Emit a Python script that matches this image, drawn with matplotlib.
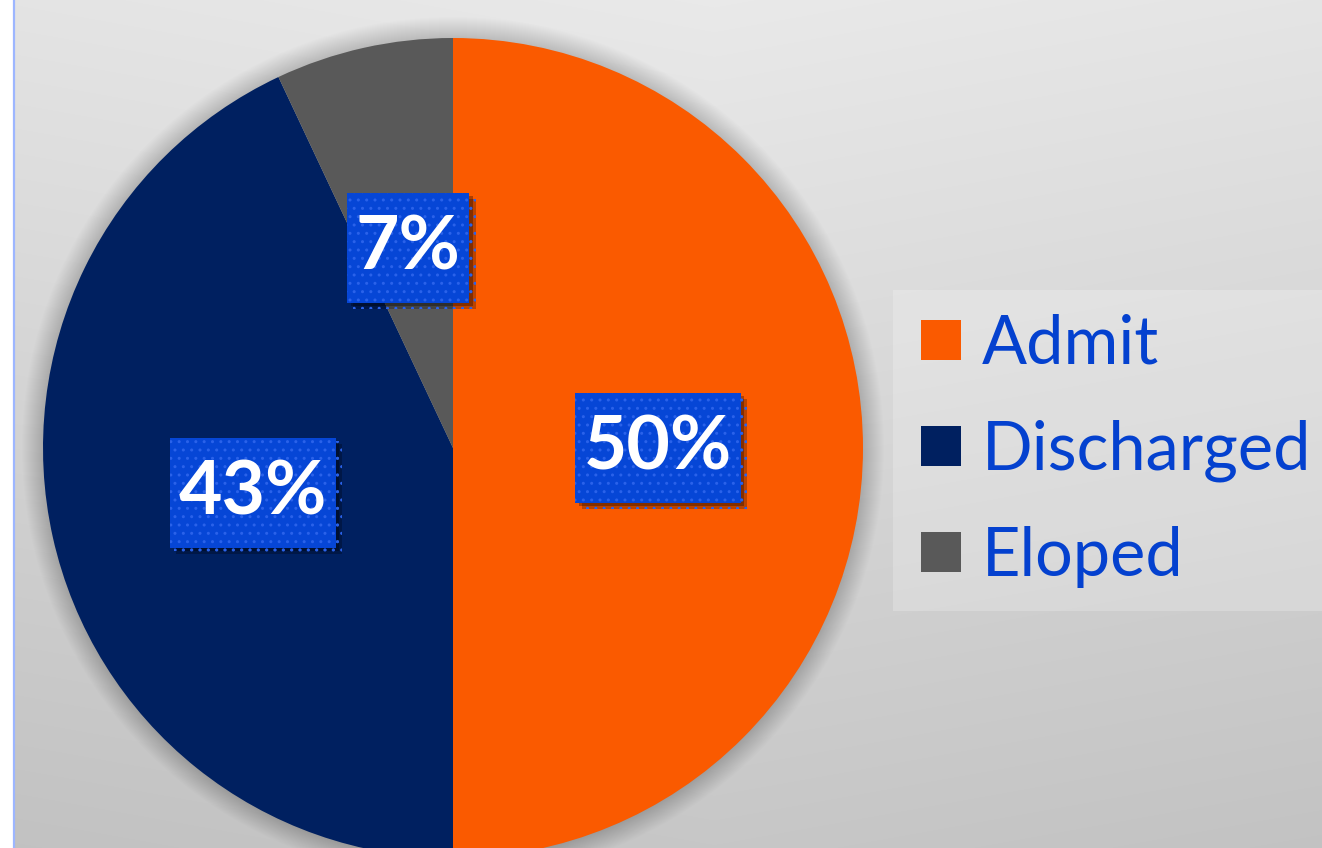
import numpy as np
import matplotlib
matplotlib.use("Agg")
import matplotlib.pyplot as plt
import matplotlib.patheffects as pe
from matplotlib.lines import Line2D
from matplotlib.patches import Circle
from matplotlib.path import Path

categorias = ["Admit", "Discharged", "Eloped"]
valores = [50, 43, 7]
cores = ["#FA5A00", "#002060", "#595959"]

W, H = 1322, 848
centro = (453, 400)
raio = 410
azul_rotulo = "#0646D6"
azul_texto = "#0441CF"

plt.rcParams["font.family"] = ["Lato", "DejaVu Sans"]


def caixa_rotulo(x0, y0, width, height, mutation_size):
    # retângulo com folga maior na vertical que na horizontal
    px, py = 0.115 * mutation_size, 0.273 * mutation_size
    x0, y0 = x0 - px, y0 - py
    x1, y1 = x0 + width + 2 * px, y0 + height + 2 * py
    return Path([(x0, y0), (x1, y0), (x1, y1), (x0, y1), (x0, y0)], closed=True)


fig = plt.figure(figsize=(W / 100, H / 100), dpi=100, facecolor="white")
ax = fig.add_axes([0, 0, 1, 1])

# fundo em degradê
yy, xx = np.mgrid[0:H, 0:W - 14]
fundo = 0.915 - 0.135 * (1 - yy / H) - 0.02 * np.abs(xx - 700) / 700
fundo = np.clip(fundo, 0, 1)
ax.imshow(np.dstack([fundo] * 3), extent=(14, W, 0, H), origin="lower",
          zorder=0, aspect="auto")
ax.axvline(13.5, color="#9DB6FF", lw=1.6, zorder=1)

# sombra suave da pizza
for k in range(22):
    ax.add_patch(Circle(centro, raio + k, color="black", alpha=0.0075,
                        lw=0, zorder=1))

wedges, textos, autotextos = ax.pie(
    valores, colors=cores, startangle=90, counterclock=False,
    center=centro, radius=raio, pctdistance=0.5,
    autopct=lambda p: f"{p:.0f}%",
    wedgeprops={"linewidth": 0, "zorder": 2},
    textprops={"color": "white", "fontsize": 54, "fontweight": "bold"},
)
for t in autotextos:
    t.set_zorder(5)
    t.set_bbox(dict(boxstyle=caixa_rotulo, fc=azul_rotulo, ec="#2A62EA",
                    lw=0, hatch=".."))
    t.get_bbox_patch().set_path_effects(
        [pe.SimplePatchShadow(offset=(4.5, -4.5), shadow_rgbFace="black", alpha=0.25),
         pe.SimplePatchShadow(offset=(2.5, -2.5), shadow_rgbFace="black", alpha=0.3),
         pe.Normal()])

ax.set_xlim(0, W)
ax.set_ylim(0, H)
ax.set_aspect("equal")
ax.axis("off")

handles = [Line2D([], [], marker="s", linestyle="none", markersize=29.5,
                  markerfacecolor=c, markeredgewidth=0) for c in cores]
leg = ax.legend(handles, categorias, loc="upper left",
                bbox_to_anchor=(893, H - 290), bbox_transform=ax.transData,
                fontsize=48, labelcolor=azul_texto, frameon=True,
                fancybox=False, borderpad=0.35, borderaxespad=0,
                handlelength=0.73, handletextpad=0.255, labelspacing=0.66)
leg.get_frame().set_facecolor("white")
leg.get_frame().set_alpha(0.22)
leg.get_frame().set_edgecolor("none")

fig.savefig("out.png", dpi=100, facecolor="white")
